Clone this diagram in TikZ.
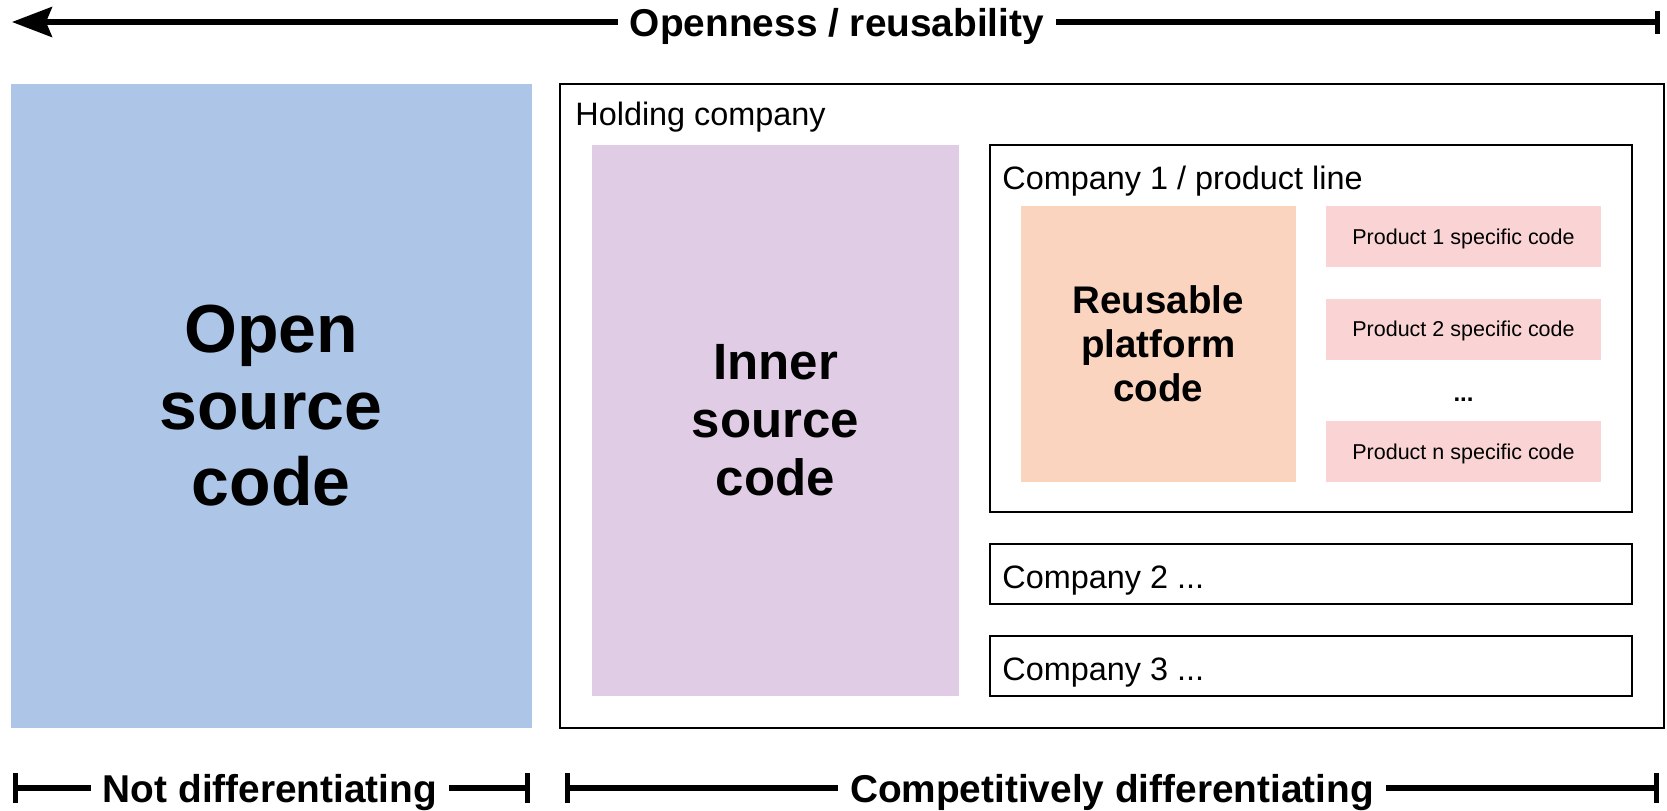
\documentclass[tikz,border=0pt]{standalone}
\usepackage{fontspec}
\setmainfont{Liberation Sans}
\usetikzlibrary{arrows.meta}

\definecolor{azulopen}{RGB}{173,197,231}
\definecolor{lilainner}{RGB}{224,204,228}
\definecolor{naranjaplat}{RGB}{251,212,192}
\definecolor{rosaprod}{RGB}{250,212,212}

\tikzset{
  caja/.style={draw, line width=1pt, inner sep=0pt},
  relleno/.style={inner sep=0pt, align=center},
  etiqueta/.style={font=\fontsize{16.2}{19}\selectfont, inner sep=0pt},
  producto/.style={fill=rosaprod, relleno, minimum width=137.5pt, minimum height=30.5pt,
                   text depth=0pt, font=\fontsize{10.75}{12}\selectfont},
  eje/.style={line width=2.6pt},
  rotulo/.style={font=\fontsize{19.4}{22}\selectfont\bfseries, inner xsep=6pt, inner ysep=0pt},
}

\begin{document}
\begin{tikzpicture}[x=0.5pt, y=-0.5pt]
  \useasboundingbox (0,0) rectangle (1667,810);

  % Eje superior
  \node[rotulo, anchor=base] (apertura) at (837,36) {Openness / reusability};
  \coordinate (puntaizq) at (12,22);
  \coordinate (topeder) at (1660,22);
  \draw[eje, -{Stealth[length=20pt,width=15pt,inset=3pt]}] (apertura.west |- puntaizq) -- (puntaizq);
  \draw[eje, -{Bar[width=11.5pt]}] (apertura.east |- topeder) -- (topeder);

  % Codigo abierto
  \node[fill=azulopen, relleno, minimum width=260.5pt, minimum height=322pt,
        font=\fontsize{34}{38.25}\selectfont\bfseries] (open) at (271,406) {Open\\source\\code};

  % Holding
  \node[caja, minimum width=552pt, minimum height=322pt] (holding) at (1112,406) {};
  \node[etiqueta, anchor=base west] (holdinglbl) at (575,125) {Holding company};

  % Inner source
  \node[fill=lilainner, relleno, minimum width=183.5pt, minimum height=275.5pt,
        font=\fontsize{25.5}{29}\selectfont\bfseries] (inner) at (775.5,420.5) {Inner\\source\\code};

  % Empresa 1 / linea de producto
  \node[caja, minimum width=321pt, minimum height=183.5pt] (comp1) at (1311,328.5) {};
  \node[etiqueta, anchor=base west] (comp1lbl) at (1002,189) {Company 1 / product line};
  \node[fill=naranjaplat, relleno, minimum width=137.7pt, minimum height=138pt,
        font=\fontsize{19.25}{22}\selectfont\bfseries] (plataforma) at (1158.3,344) {Reusable\\platform\\code};
  \node[producto] (prod1) at (1463.5,236.5) {Product 1 specific code};
  \node[producto] (prod2) at (1463.5,329) {Product 2 specific code};
  \node[font=\fontsize{12}{14}\selectfont\bfseries, inner sep=0pt] (puntos) at (1463.5,400) {...};
  \node[producto] (prodn) at (1463.5,451.5) {Product n specific code};

  % Otras empresas
  \node[caja, minimum width=321pt, minimum height=30pt] (comp2) at (1311,574) {};
  \node[etiqueta, anchor=base west] (comp2lbl) at (1002,588) {Company 2 ...};
  \node[caja, minimum width=321pt, minimum height=30pt] (comp3) at (1311,666) {};
  \node[etiqueta, anchor=base west] (comp3lbl) at (1002,680) {Company 3 ...};

  % Eje inferior
  \node[rotulo, anchor=base] (nodif) at (270,802) {Not differentiating};
  \coordinate (nodifizq) at (13,788);
  \coordinate (nodifder) at (530,788);
  \draw[eje, -{Bar[width=15pt]}] (nodif.west |- nodifizq) -- (nodifizq);
  \draw[eje, -{Bar[width=15pt]}] (nodif.east |- nodifder) -- (nodifder);

  \node[rotulo, anchor=base] (dif) at (1112,802) {Competitively differentiating};
  \coordinate (difizq) at (565,788);
  \coordinate (difder) at (1659,788);
  \draw[eje, -{Bar[width=15pt]}] (dif.west |- difizq) -- (difizq);
  \draw[eje, -{Bar[width=15pt]}] (dif.east |- difder) -- (difder);
\end{tikzpicture}
\end{document}
